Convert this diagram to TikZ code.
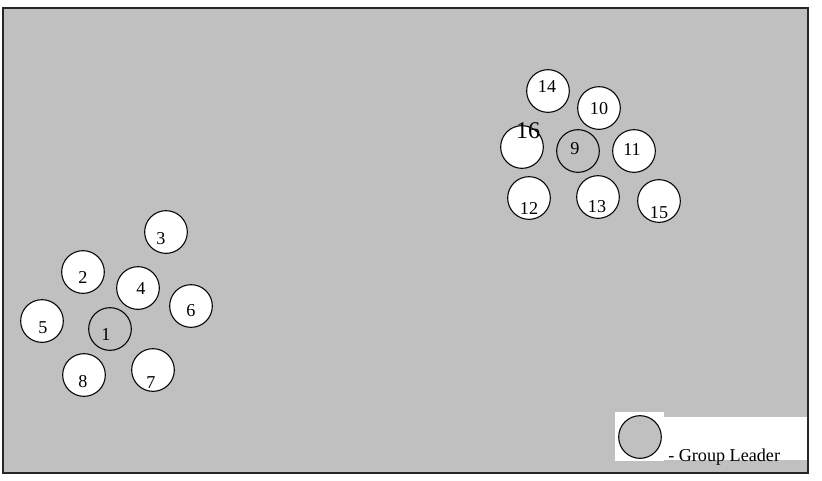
\documentclass[tikz,border=0pt]{standalone}
\usepackage{fontspec}
\setmainfont{Liberation Serif}
\usepackage{xcolor}
\definecolor{fieldgray}{RGB}{192,192,192}
\tikzset{
  member/.style={circle,draw,line width=0.8pt,minimum size=32pt,inner sep=0pt,fill=white},
  leader/.style={member,fill=fieldgray},
  num/.style={inner sep=0pt,font=\fontsize{13.6}{16}\selectfont}
}

\begin{document}
\begin{tikzpicture}[x=0.75pt,y=-0.75pt]
  \useasboundingbox (0,0) rectangle (822,480);
  % field and legend patch
  \fill[fieldgray] (3,8) rectangle (808,473);
  \fill[white] (615,412) rectangle (664,461);
  \fill[white] (664,417) rectangle (807,460);
  \draw[line width=1.3pt,black!85] (3,8) rectangle (808,473);

  % group around leader 1
  \node[member] (n3) at (166,232) {};
  \node[member] (n2) at (83,272) {};
  \node[member] (n4) at (138,288) {};
  \node[member] (n6) at (191,306) {};
  \node[member] (n5) at (42,321) {};
  \node[leader] (n1) at (110,329) {};
  \node[member] (n8) at (84,375) {};
  \node[member] (n7) at (153,370) {};
  \node[num] (t3) at (161,239) {3};
  \node[num] (t2) at (83,277) {2};
  \node[num] (t4) at (141,289) {4};
  \node[num] (t6) at (191,311) {6};
  \node[num] (t5) at (43,328) {5};
  \node[num] (t1) at (106,335) {1};
  \node[num] (t8) at (83,382) {8};
  \node[num] (t7) at (151,383) {7};

  % group around leader 9
  \node[member] (n14) at (548,91) {};
  \node[member] (n10) at (599,108) {};
  \node[member] (n16) at (522,147) {};
  \node[leader] (n9) at (578,151) {};
  \node[member] (n11) at (634,151) {};
  \node[member] (n12) at (529,198) {};
  \node[member] (n13) at (598,197) {};
  \node[member] (n15) at (659,201) {};
  \node[num] (t14) at (547,87) {14};
  \node[num] (t10) at (599,109) {10};
  \node[num,font=\fontsize{18}{20}\selectfont] (t16) at (528,131) {16};
  \node[num] (t9) at (575,149) {9};
  \node[num] (t11) at (632,150) {11};
  \node[num] (t12) at (529,208) {12};
  \node[num] (t13) at (597,207) {13};
  \node[num] (t15) at (659,213) {15};

  % legend
  \node[leader] (key) at (640,437) {};
  \node[num,anchor=base west] (keytext) at (668,461) {- Group Leader};
\end{tikzpicture}
\end{document}
